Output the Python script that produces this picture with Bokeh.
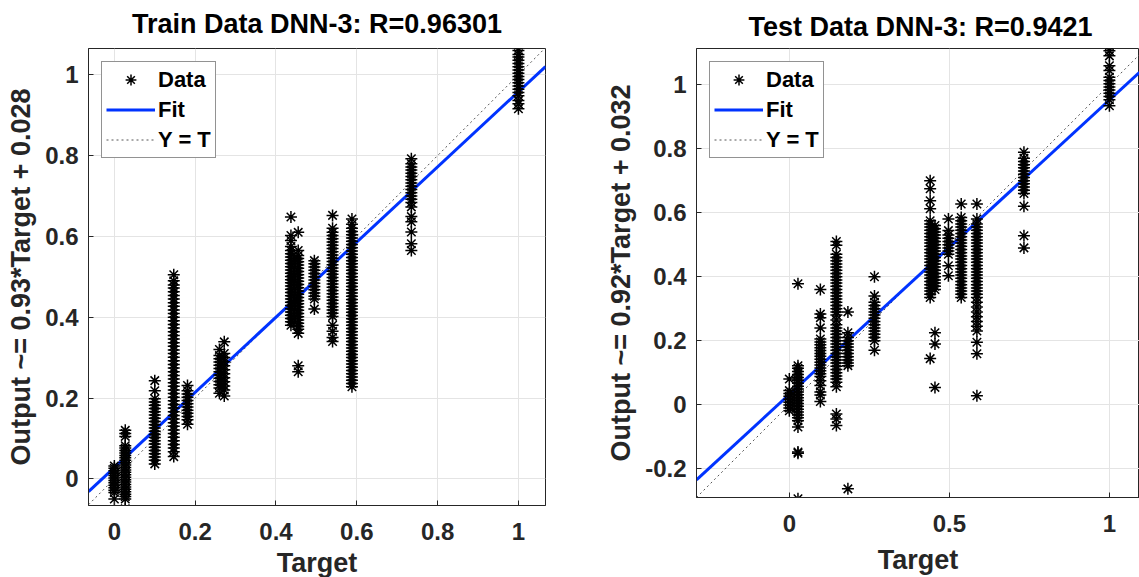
from bokeh.plotting import figure
from bokeh.layouts import row, column
from bokeh.models import (Legend, LegendItem, ColumnDataSource, FixedTicker,
                          Range1d, Label)
from bokeh.embed import file_html
from bokeh.resources import INLINE

FONT = "Liberation Sans"

# ---------------- Train data ----------------
train_title = "Train Data DNN-3: R=0.96301"
train_ylabel = "Output ~= 0.93*Target + 0.028"
train_fit = (0.93, 0.028)
train_targets = [0.0, 0.027, 0.10, 0.147, 0.181, 0.26, 0.272, 0.437, 0.455,
                 0.495, 0.54, 0.588, 0.735, 1.0]
train_outputs = [
    [0.032, 0.026, 0.02, 0.014, 0.008, 0.002, -0.004, -0.01, -0.016, -0.022,
     -0.028, -0.034, -0.05],
    [0.12, 0.112, 0.105, 0.082, 0.076, 0.07, 0.064, 0.058, 0.052, 0.046, 0.04,
     0.034, 0.028, 0.022, 0.016, 0.01, 0.004, -0.002, -0.008, -0.014, -0.02,
     -0.026, -0.032, -0.038, -0.044, -0.05, -0.074],
    [0.243, 0.218, 0.198, 0.19, 0.182, 0.174, 0.166, 0.158, 0.15, 0.142, 0.134,
     0.126, 0.118, 0.11, 0.102, 0.094, 0.086, 0.078, 0.07, 0.062, 0.054, 0.046,
     0.037],
    [0.505, 0.49, 0.48, 0.472, 0.463, 0.454, 0.445, 0.436, 0.427, 0.418, 0.409,
     0.4, 0.391, 0.382, 0.373, 0.364, 0.355, 0.346, 0.337, 0.328, 0.319, 0.31,
     0.301, 0.292, 0.283, 0.274, 0.265, 0.256, 0.247, 0.238, 0.229, 0.22, 0.211,
     0.202, 0.193, 0.184, 0.175, 0.166, 0.157, 0.148, 0.139, 0.13, 0.121, 0.112,
     0.103, 0.094, 0.085, 0.076, 0.067, 0.055],
    [0.231, 0.218, 0.21, 0.202, 0.194, 0.186, 0.178, 0.17, 0.162, 0.154, 0.146,
     0.135],
    [0.32, 0.305, 0.297, 0.289, 0.281, 0.273, 0.265, 0.257, 0.249, 0.241, 0.233,
     0.225, 0.212],
    [0.339, 0.31, 0.3, 0.29, 0.28, 0.27, 0.26, 0.25, 0.24, 0.23, 0.22, 0.205],
    [0.648, 0.602, 0.59, 0.575, 0.565, 0.557, 0.549, 0.541, 0.533, 0.525, 0.517,
     0.509, 0.501, 0.493, 0.485, 0.477, 0.469, 0.461, 0.453, 0.445, 0.437,
     0.429, 0.421, 0.413, 0.405, 0.397, 0.389, 0.38],
    [0.61, 0.565, 0.553, 0.545, 0.537, 0.529, 0.521, 0.513, 0.505, 0.497, 0.489,
     0.481, 0.473, 0.465, 0.457, 0.449, 0.441, 0.433, 0.425, 0.417, 0.409,
     0.401, 0.393, 0.385, 0.377, 0.37, 0.36, 0.28, 0.265],
    [0.54, 0.532, 0.524, 0.516, 0.508, 0.5, 0.492, 0.484, 0.476, 0.468, 0.46,
     0.452, 0.445, 0.42],
    [0.652, 0.62, 0.61, 0.602, 0.594, 0.586, 0.578, 0.57, 0.562, 0.554, 0.546,
     0.538, 0.53, 0.522, 0.514, 0.506, 0.498, 0.49, 0.482, 0.474, 0.466, 0.458,
     0.45, 0.442, 0.434, 0.426, 0.418, 0.41, 0.402, 0.38, 0.365, 0.35, 0.34],
    [0.643, 0.63, 0.62, 0.612, 0.604, 0.596, 0.588, 0.58, 0.572, 0.564, 0.556,
     0.548, 0.54, 0.532, 0.524, 0.516, 0.508, 0.5, 0.492, 0.484, 0.476, 0.468,
     0.46, 0.452, 0.444, 0.436, 0.428, 0.42, 0.412, 0.404, 0.396, 0.388, 0.38,
     0.372, 0.364, 0.356, 0.348, 0.34, 0.332, 0.324, 0.316, 0.308, 0.3, 0.292,
     0.284, 0.276, 0.268, 0.26, 0.252, 0.244, 0.236, 0.228],
    [0.792, 0.78, 0.772, 0.764, 0.756, 0.748, 0.74, 0.732, 0.724, 0.716, 0.708,
     0.7, 0.692, 0.684, 0.673, 0.649, 0.636, 0.611, 0.582, 0.565],
    [1.073, 1.06, 1.05, 1.044, 1.036, 1.028, 1.02, 1.012, 1.004, 0.996, 0.988,
     0.98, 0.972, 0.964, 0.956, 0.948, 0.936, 0.928, 0.916],
]
train_xticks = [0, 0.2, 0.4, 0.6, 0.8, 1]
train_xtick_labels = ["0", "0.2", "0.4", "0.6", "0.8", "1"]
train_yticks = [0, 0.2, 0.4, 0.6, 0.8, 1]
train_ytick_labels = ["0", "0.2", "0.4", "0.6", "0.8", "1"]
train_xlim = (-0.064, 1.067)
train_ylim = (-0.066, 1.065)

# ---------------- Test data ----------------
test_title = "Test Data DNN-3: R=0.9421"
test_ylabel = "Output ~= 0.92*Target + 0.032"
test_fit = (0.92, 0.032)
test_targets = [0.0, 0.027, 0.097, 0.147, 0.183, 0.266, 0.44, 0.455, 0.497,
                0.537, 0.586, 0.733, 1.0]
test_outputs = [
    [0.08, 0.044, 0.035, 0.026, 0.017, 0.008, -0.001, -0.01, -0.019],
    [0.378, 0.122, 0.114, 0.104, 0.094, 0.085, 0.076, 0.067, 0.058, 0.049, 0.04,
     0.031, 0.022, 0.013, 0.004, -0.005, -0.014, -0.023, -0.032, -0.041, -0.05,
     -0.07, -0.148, -0.152, -0.294],
    [0.36, 0.283, 0.272, 0.24, 0.205, 0.196, 0.187, 0.178, 0.169, 0.16, 0.151,
     0.142, 0.133, 0.124, 0.115, 0.106, 0.097, 0.088, 0.075, 0.06, 0.04, 0.03,
     0.01],
    [0.51, 0.498, 0.47, 0.46, 0.45, 0.44, 0.43, 0.42, 0.41, 0.4, 0.39, 0.38,
     0.37, 0.36, 0.35, 0.34, 0.33, 0.32, 0.31, 0.3, 0.29, 0.28, 0.265, 0.25,
     0.24, 0.23, 0.22, 0.21, 0.2, 0.19, 0.18, 0.17, 0.16, 0.15, 0.14, 0.13,
     0.12, 0.11, 0.1, 0.09, 0.08, 0.07, 0.056, -0.029, -0.045, -0.065],
    [0.29, 0.225, 0.21, 0.2, 0.19, 0.18, 0.17, 0.16, 0.15, 0.14, 0.13, 0.122,
     -0.263],
    [0.4, 0.34, 0.32, 0.31, 0.3, 0.29, 0.28, 0.27, 0.26, 0.25, 0.24, 0.23, 0.22,
     0.21, 0.2, 0.17],
    [0.7, 0.675, 0.637, 0.612, 0.575, 0.565, 0.555, 0.545, 0.535, 0.525, 0.515,
     0.505, 0.495, 0.485, 0.475, 0.465, 0.455, 0.445, 0.435, 0.425, 0.415,
     0.405, 0.395, 0.385, 0.375, 0.365, 0.355, 0.345, 0.335, 0.144],
    [0.56, 0.55, 0.54, 0.53, 0.52, 0.51, 0.5, 0.49, 0.48, 0.47, 0.46, 0.45,
     0.44, 0.43, 0.42, 0.41, 0.4, 0.39, 0.38, 0.37, 0.36, 0.225, 0.19, 0.054],
    [0.58, 0.544, 0.53, 0.52, 0.51, 0.5, 0.49, 0.48, 0.47, 0.434, 0.403],
    [0.627, 0.585, 0.575, 0.565, 0.555, 0.545, 0.535, 0.525, 0.515, 0.505,
     0.495, 0.485, 0.475, 0.465, 0.455, 0.445, 0.435, 0.425, 0.415, 0.405,
     0.395, 0.385, 0.375, 0.365, 0.355, 0.345, 0.335],
    [0.627, 0.58, 0.565, 0.555, 0.545, 0.535, 0.525, 0.515, 0.505, 0.495, 0.485,
     0.475, 0.465, 0.455, 0.445, 0.435, 0.425, 0.415, 0.405, 0.395, 0.385,
     0.375, 0.365, 0.355, 0.345, 0.335, 0.32, 0.305, 0.29, 0.275, 0.26, 0.245,
     0.23, 0.195, 0.159, 0.028],
    [0.789, 0.77, 0.76, 0.75, 0.74, 0.73, 0.72, 0.71, 0.7, 0.69, 0.68, 0.67,
     0.66, 0.62, 0.528, 0.49],
    [1.122, 1.106, 1.09, 1.059, 1.044, 1.023, 1.013, 1.003, 0.993, 0.983, 0.973,
     0.963, 0.953, 0.934],
]
test_xticks = [0, 0.5, 1]
test_xtick_labels = ["0", "0.5", "1"]
test_yticks = [-0.2, 0, 0.2, 0.4, 0.6, 0.8, 1]
test_ytick_labels = ["-0.2", "0", "0.2", "0.4", "0.6", "0.8", "1"]
test_xlim = (-0.29, 1.094)
test_ylim = (-0.29, 1.113)

xlabel = "Target"
legend_labels = ["Data", "Fit", "Y = T"]

AX = "#262626"
W, H = 1139, 577
TOP_H = 42      # strip holding the titles

# panel geometry (pixels): frame size and borders
G1 = dict(fw=457, fh=457, bl=88, br=45, bt=3, xl_standoff=5)
G2 = dict(fw=443, fh=449, bl=106, br=0, bt=6, xl_standoff=10)


def panel(ylabel, targets, outputs, fit, xticks, xtl, yticks, ytl,
          xlim, ylim, g):
    xs, ys = [], []
    for t, outs in zip(targets, outputs):
        xs += [t] * len(outs)
        ys += outs
    src = ColumnDataSource(dict(x=xs, y=ys))

    p = figure(frame_width=g["fw"], frame_height=g["fh"],
               x_range=Range1d(*xlim), y_range=Range1d(*ylim),
               output_backend="svg", toolbar_location=None,
               min_border_left=g["bl"], min_border_right=g["br"],
               min_border_top=g["bt"], min_border_bottom=10)
    p.background_fill_color = "white"
    p.border_fill_color = "white"
    p.outline_line_color = AX
    p.outline_line_width = 1
    p.outline_line_alpha = 1

    p.xaxis.ticker = FixedTicker(ticks=xticks)
    p.yaxis.ticker = FixedTicker(ticks=yticks)
    p.xaxis.major_label_overrides = dict(zip(xticks, xtl))
    p.yaxis.major_label_overrides = dict(zip(yticks, ytl))
    for ax in (p.xaxis[0], p.yaxis[0]):
        ax.axis_line_color = AX
        ax.major_tick_line_color = AX
        ax.major_tick_in = 5
        ax.major_tick_out = 0
        ax.minor_tick_line_color = None
        ax.major_label_text_font = FONT
        ax.major_label_text_font_size = "24px"
        ax.major_label_text_font_style = "bold"
        ax.major_label_text_color = AX
        ax.axis_label_text_font = FONT
        ax.axis_label_text_font_size = "27px"
        ax.axis_label_text_font_style = "bold"
        ax.axis_label_text_color = AX
    p.yaxis.axis_label = ylabel
    p.xaxis.axis_label = xlabel
    p.xaxis.major_label_standoff = 17
    p.xaxis.axis_label_standoff = g["xl_standoff"]
    p.yaxis.major_label_standoff = 10
    p.yaxis.axis_label_standoff = 6

    p.xgrid.grid_line_color = "#e4e4e4"
    p.ygrid.grid_line_color = "#e4e4e4"

    lx = [xlim[0], xlim[1]]
    fy = [fit[0] * v + fit[1] for v in lx]
    r_yt = p.line(lx, lx, line_color="#555555", line_width=1, line_dash="2 3")
    r_fit = p.line(lx, fy, line_color="#0033ff", line_width=3)
    r_data = p.scatter(x="x", y="y", source=src, marker="asterisk", size=12,
                       line_color="black", line_width=1.5)

    legend = Legend(items=[LegendItem(label=legend_labels[0], renderers=[r_data]),
                           LegendItem(label=legend_labels[1], renderers=[r_fit]),
                           LegendItem(label=legend_labels[2], renderers=[r_yt])],
                    location="top_left")
    legend.label_text_font = FONT
    legend.label_text_font_size = "22px"
    legend.label_text_font_style = "bold"
    legend.label_text_color = "black"
    legend.glyph_width = 49
    legend.glyph_height = 27
    legend.label_height = 27
    legend.spacing = 3
    legend.padding = 4
    legend.margin = 13
    legend.label_standoff = 3
    legend.border_line_color = AX
    legend.border_line_width = 1
    legend.background_fill_alpha = 1
    p.add_layout(legend)
    return p


def strip(height, texts, color):
    s = figure(width=W, height=height, x_range=Range1d(0, W),
               y_range=Range1d(0, height), x_axis_type=None, y_axis_type=None,
               output_backend="svg", toolbar_location=None, min_border=0)
    s.outline_line_color = None
    s.xgrid.visible = False
    s.ygrid.visible = False
    for txt, cx, base in texts:
        s.add_layout(Label(x=cx, y=base, x_units="screen", y_units="screen",
                           text=txt, text_align="center",
                           text_baseline="alphabetic", text_font=FONT,
                           text_font_size="27px", text_font_style="bold",
                           text_color=color))
    return s


p1 = panel(train_ylabel, train_targets, train_outputs, train_fit,
           train_xticks, train_xtick_labels, train_yticks, train_ytick_labels,
           train_xlim, train_ylim, G1)
p2 = panel(test_ylabel, test_targets, test_outputs, test_fit,
           test_xticks, test_xtick_labels, test_yticks, test_ytick_labels,
           test_xlim, test_ylim, G2)

left_w = G1["bl"] + G1["fw"] + G1["br"]
c1 = G1["bl"] + G1["fw"] / 2                 # centre of the left frame
c2 = left_w + G2["bl"] + 224                 # centre of the right frame
top = strip(TOP_H, [(train_title, c1, 19), (test_title, c2, 16)], "black")

layout = column(top, row(p1, p2), width=W, height=H,
                styles={"overflow": "hidden"})
open("out.html", "w").write(file_html(layout, INLINE))
